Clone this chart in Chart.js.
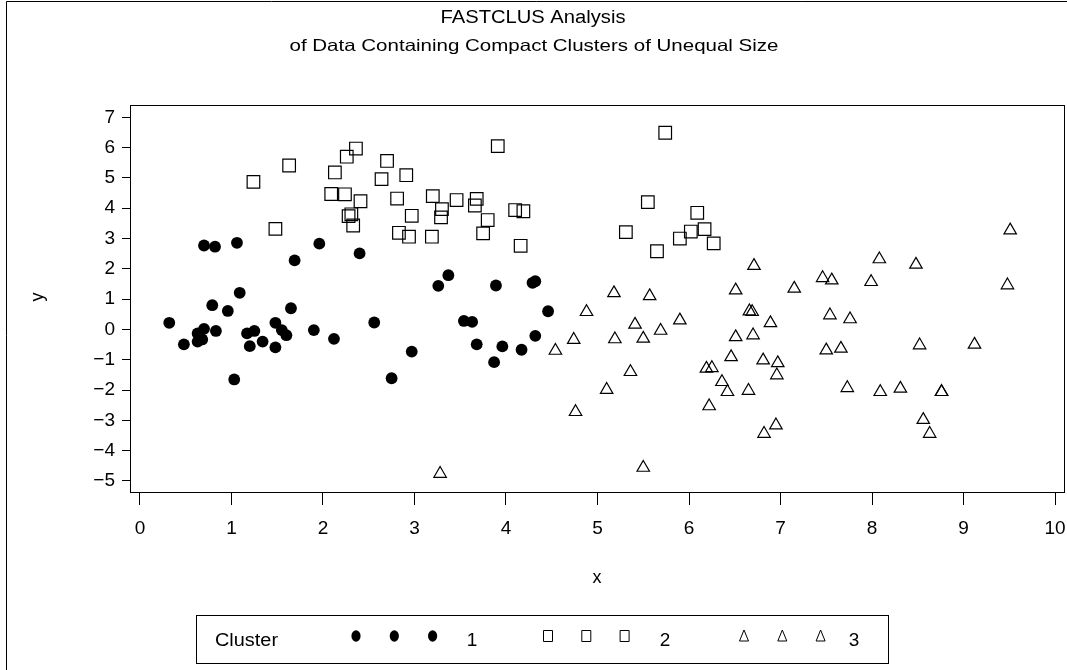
<!DOCTYPE html>
<html>
<head>
<meta charset="utf-8">
<script src="https://cdn.jsdelivr.net/npm/chart.js"></script>
<style>
  html, body { margin: 0; padding: 0; background: #fff; }
  #grafico { display: block; }
</style>
</head>
<body>
<canvas id="grafico" width="1067" height="670"></canvas>
<script>
// datos
const cluster1X = [0.32, 0.48, 0.63, 0.70, 0.63, 0.68, 0.83, 0.79, 0.96, 1.09, 0.70, 0.82, 1.06, 1.03, 1.17, 1.25, 1.20, 1.34, 1.48, 1.48, 1.55, 1.60, 1.65, 1.69, 1.90, 1.96, 2.12, 2.40, 2.56, 2.75, 2.97, 3.26, 3.37, 3.89, 4.29, 4.32, 3.54, 3.63, 4.46, 3.68, 3.96, 4.17, 4.32, 3.87];
const cluster1Y = [0.22, -0.49, -0.13, 0.02, -0.40, -0.33, -0.05, 0.80, 0.61, 1.21, 2.77, 2.73, 2.86, -1.65, -0.13, -0.05, -0.55, -0.40, 0.22, -0.59, -0.02, -0.19, 0.70, 2.28, -0.02, 2.83, -0.31, 2.51, 0.23, -1.61, -0.73, 1.44, 1.79, 1.45, 1.54, 1.59, 0.28, 0.25, 0.60, -0.49, -0.56, -0.67, -0.21, -1.08];

const cluster2X = [1.24, 1.48, 1.63, 2.13, 2.09, 2.24, 2.26, 2.36, 2.28, 2.31, 2.33, 2.41, 2.64, 2.70, 2.91, 2.81, 2.97, 2.83, 2.94, 3.19, 3.20, 3.30, 3.29, 3.91, 3.46, 3.68, 3.66, 3.80, 3.75, 4.10, 4.19, 4.16, 5.74, 5.55, 5.31, 5.65, 6.09, 5.90, 6.02, 6.17, 6.27];
const cluster2Y = [4.87, 3.32, 5.41, 5.18, 4.47, 4.46, 5.70, 5.97, 3.74, 3.80, 3.43, 4.23, 4.96, 5.56, 5.09, 4.32, 3.75, 3.19, 3.06, 3.06, 4.40, 3.97, 3.70, 6.05, 4.27, 4.31, 4.09, 3.61, 3.17, 3.94, 3.90, 2.76, 6.49, 4.20, 3.21, 2.58, 3.85, 3.00, 3.23, 3.31, 2.84];

const cluster3X = [3.28, 4.54, 4.74, 4.88, 4.76, 5.18, 5.19, 5.10, 5.36, 5.41, 5.50, 5.57, 5.69, 5.50, 5.90, 6.19, 6.25, 6.22, 6.36, 6.42, 6.46, 6.51, 6.51, 6.65, 6.66, 6.69, 6.70, 6.71, 7.15, 7.46, 7.56, 7.99, 8.08, 8.48, 9.51, 9.48, 6.89, 7.54, 7.76, 7.50, 7.66, 8.52, 9.12, 6.81, 6.97, 6.96, 7.73, 8.09, 8.31, 8.76, 8.76, 6.82, 6.95, 8.56, 8.63];
const cluster3Y = [-4.76, -0.70, -0.34, 0.58, -2.72, 1.20, -0.32, -1.99, -1.40, 0.16, -0.30, 1.10, -0.04, -4.56, 0.30, -1.29, -1.27, -2.53, -1.73, -2.06, -0.91, -0.25, 1.29, -2.02, 0.60, 0.58, -0.19, 2.10, 1.35, 1.70, 1.62, 1.57, 2.32, 2.14, 3.27, 1.46, 0.21, 0.47, 0.34, -0.69, -0.63, -0.52, -0.50, -1.02, -1.11, -1.51, -1.93, -2.06, -1.95, -2.06, -2.06, -3.44, -3.16, -2.98, -3.44];

const clusterNames = ['1', '2', '3'];
const xTicks = [0, 1, 2, 3, 4, 5, 6, 7, 8, 9, 10];
const yTicks = [-5, -4, -3, -2, -1, 0, 1, 2, 3, 4, 5, 6, 7];

const tituloPrincipal = 'FASTCLUS Analysis';
const subtitulo = 'of Data Containing Compact Clusters of Unequal Size';

const fuente = '"Liberation Sans", Arial, Helvetica, sans-serif';

function juntar(xs, ys) {
  return xs.map((x, i) => ({ x: x, y: ys[i] }));
}

// texto estirado en horizontal (la fuente del original es mas ancha)
function textoAncho(ctx, texto, cx, cy, tam, ancho, alinear) {
  ctx.save();
  ctx.font = tam + 'px ' + fuente;
  const w = ctx.measureText(texto).width;
  const k = ancho / w;
  ctx.translate(cx, cy);
  ctx.scale(k, 1);
  ctx.textAlign = alinear || 'center';
  ctx.textBaseline = 'middle';
  ctx.fillText(texto, 0, 0);
  ctx.restore();
}

// marcadores de la leyenda
function marcador(ctx, tipo, x, y) {
  ctx.save();
  ctx.strokeStyle = '#000';
  ctx.fillStyle = '#000';
  ctx.lineWidth = 1;
  ctx.beginPath();
  if (tipo === 'circle') {
    ctx.ellipse(x, y, 4.6, 5.7, 0, 0, Math.PI * 2);
    ctx.fill();
  } else if (tipo === 'rect') {
    ctx.rect(x - 4.5, y - 5.5, 9, 11);
    ctx.stroke();
  } else {
    ctx.moveTo(x, y - 6);
    ctx.lineTo(x + 4.5, y + 5);
    ctx.lineTo(x - 4.5, y + 5);
    ctx.closePath();
    ctx.stroke();
  }
  ctx.restore();
}

const decorado = {
  id: 'decorado',
  beforeDraw(chart) {
    const ctx = chart.ctx;
    ctx.save();
    ctx.fillStyle = '#fff';
    ctx.fillRect(0, 0, chart.width, chart.height);
    ctx.restore();
  },
  afterDraw(chart) {
    const ctx = chart.ctx;
    const a = chart.chartArea;
    ctx.save();

    // marco exterior
    ctx.strokeStyle = '#000';
    ctx.lineWidth = 1;
    ctx.beginPath();
    ctx.moveTo(6.5, 670);
    ctx.lineTo(6.5, 1.5);
    ctx.lineTo(1067, 1.5);
    ctx.stroke();

    // caja del grafico
    ctx.strokeRect(Math.round(a.left) + 0.5, Math.round(a.top) + 0.5,
      Math.round(a.right - a.left), Math.round(a.bottom - a.top));

    // titulos
    ctx.fillStyle = '#000';
    textoAncho(ctx, tituloPrincipal, 533, 18, 18, 185);
    textoAncho(ctx, subtitulo, 534, 46, 16.5, 489);

    // etiquetas de ejes
    ctx.textAlign = 'center';
    ctx.textBaseline = 'middle';
    ctx.font = '18px ' + fuente;
    ctx.fillText('x', 597, 578);
    ctx.save();
    ctx.translate(38, 297);
    ctx.rotate(-Math.PI / 2);
    ctx.fillText('y', 0, 0);
    ctx.restore();

    // leyenda
    ctx.strokeRect(196.5, 615.5, 692, 48);
    textoAncho(ctx, 'Cluster', 215, 641, 18, 63, 'left');
    const tipos = ['circle', 'rect', 'triangle'];
    const inicios = [356, 548, 744];
    const etiquetasX = [472, 665, 854];
    ctx.font = '19px ' + fuente;
    ctx.textAlign = 'center';
    ctx.textBaseline = 'middle';
    clusterNames.forEach((nombre, i) => {
      for (let k = 0; k < 3; k++) {
        marcador(ctx, tipos[i], inicios[i] + k * 38.3, 636);
      }
      ctx.fillText(nombre, etiquetasX[i], 641);
    });

    ctx.restore();
  }
};

function crearGrafico() {
  const ctx = document.getElementById('grafico').getContext('2d');
  new Chart(ctx, {
    type: 'scatter',
    data: {
      datasets: [
        {
          label: clusterNames[0],
          data: juntar(cluster1X, cluster1Y),
          pointStyle: 'circle',
          pointRadius: 5.9,
          backgroundColor: '#000',
          borderColor: '#000',
          borderWidth: 0
        },
        {
          label: clusterNames[1],
          data: juntar(cluster2X, cluster2Y),
          pointStyle: 'rect',
          pointRadius: 8.9,
          backgroundColor: 'rgba(0,0,0,0)',
          borderColor: '#000',
          borderWidth: 1.2
        },
        {
          label: clusterNames[2],
          data: juntar(cluster3X, cluster3Y),
          pointStyle: 'triangle',
          pointRadius: 7.2,
          backgroundColor: 'rgba(0,0,0,0)',
          borderColor: '#000',
          borderWidth: 1.2
        }
      ]
    },
    options: {
      responsive: false,
      animation: false,
      events: [],
      layout: { autoPadding: false, padding: { left: 0, top: 105, right: 3, bottom: 0 } },
      scales: {
        x: {
          type: 'linear',
          min: -0.109,
          max: 10.098,
          afterBuildTicks: (s) => { s.ticks = xTicks.map(v => ({ value: v })); },
          afterFit: (s) => { s.height = 178; s.paddingLeft = 0; s.paddingRight = 0; },
          border: { display: false },
          grid: { drawOnChartArea: false, drawTicks: true, tickLength: 13, color: '#000', lineWidth: 1 },
          ticks: { color: '#000', padding: 12, font: { family: fuente, size: 19 }, maxRotation: 0, autoSkip: false }
        },
        y: {
          type: 'linear',
          min: -5.363,
          max: 7.406,
          afterBuildTicks: (s) => { s.ticks = yTicks.map(v => ({ value: v })); },
          afterFit: (s) => { s.width = 130; s.paddingTop = 0; s.paddingBottom = 0; },
          border: { display: false },
          grid: { drawOnChartArea: false, drawTicks: true, tickLength: 8, color: '#000', lineWidth: 1 },
          ticks: {
            color: '#000', padding: 7, font: { family: fuente, size: 19 }, autoSkip: false,
            callback: (v) => String(v).replace('-', '\u2212')
          }
        }
      },
      plugins: {
        legend: { display: false },
        tooltip: { enabled: false }
      }
    },
    plugins: [decorado]
  });
}

window.onload = () => {
  crearGrafico();
};
</script>
</body>
</html>
